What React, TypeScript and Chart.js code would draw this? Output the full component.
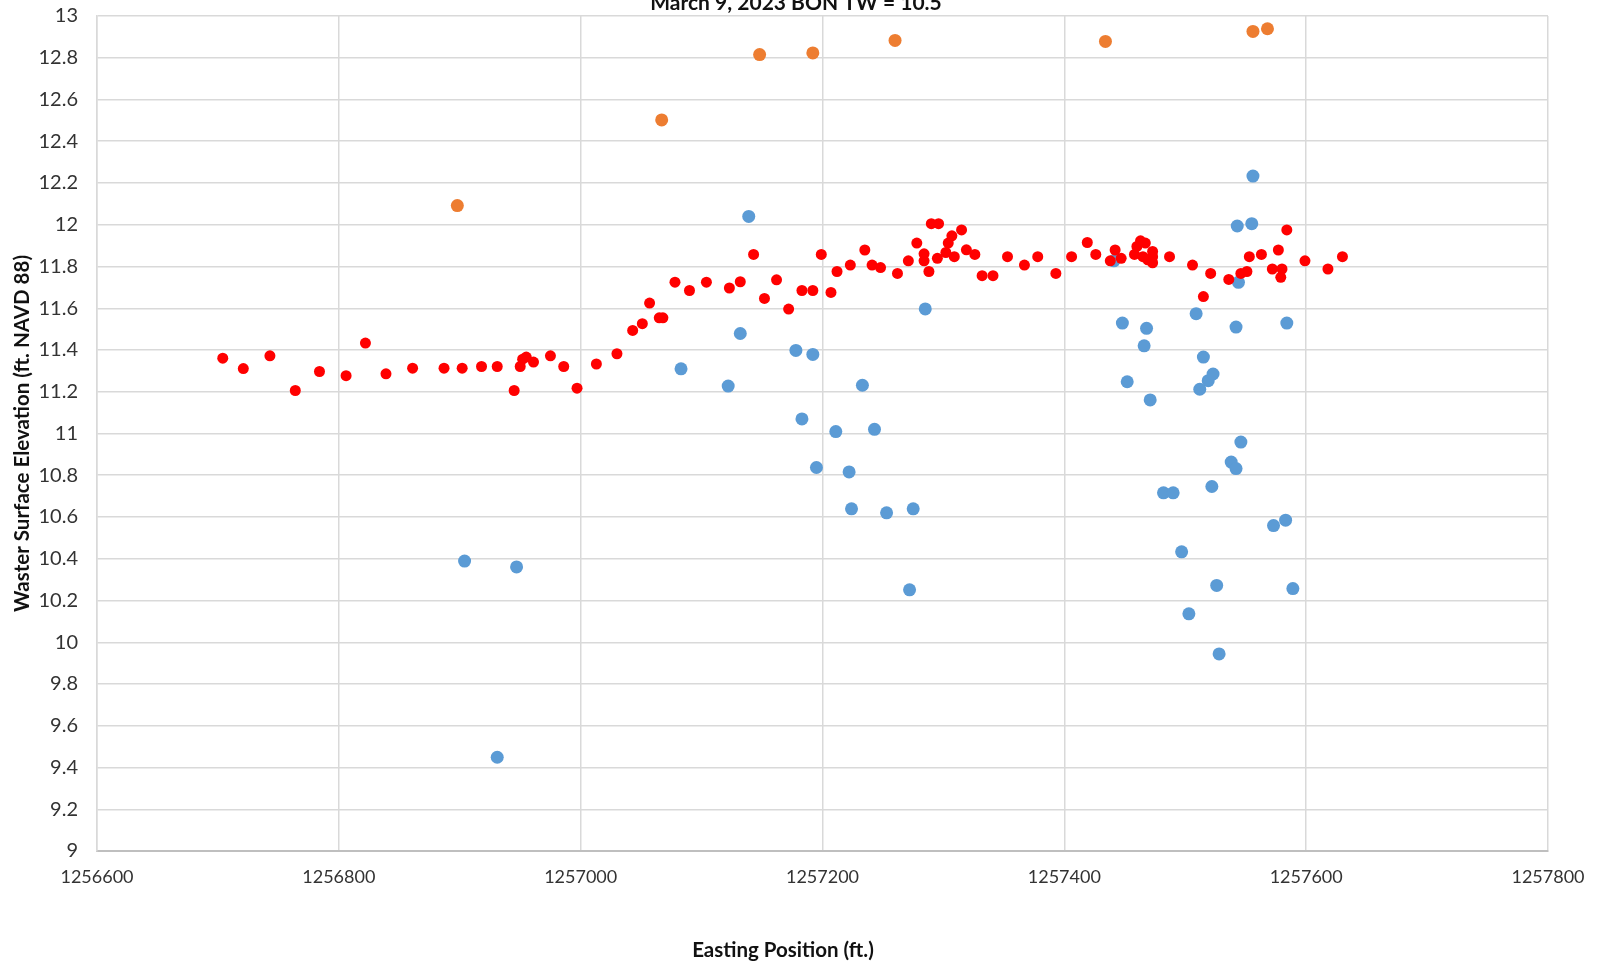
import React, { useEffect, useRef } from "react";
import { Chart, registerables } from "chart.js";

Chart.register(...registerables);

const CHART_TITLE = "March 9, 2023 BON TW = 10.5";
const X_TITLE = "Easting Position (ft.)";
const Y_TITLE = "Waster Surface Elevation (ft. NAVD 88)";

const X_MIN = 1256600;
const X_MAX = 1257800;
const X_STEP = 200;
const Y_MIN = 9;
const Y_MAX = 13;
const Y_STEP = 0.2;

const redX = [
  1256704, 1256721, 1256743, 1256764, 1256784, 1256806, 1256822, 1256839, 1256861, 1256887,
  1256902, 1256918, 1256931, 1256945, 1256950, 1256952, 1256955, 1256961, 1256975, 1256986,
  1256997, 1257013, 1257030, 1257043, 1257051, 1257057, 1257065, 1257068, 1257078, 1257090,
  1257104, 1257123, 1257132, 1257143, 1257152, 1257162, 1257172, 1257183, 1257192, 1257199,
  1257207, 1257212, 1257223, 1257235, 1257241, 1257248, 1257262, 1257271, 1257278, 1257284,
  1257284, 1257288, 1257290, 1257296, 1257295, 1257302, 1257304, 1257307, 1257309, 1257315,
  1257319, 1257326, 1257332, 1257341, 1257353, 1257367, 1257378, 1257393, 1257406, 1257419,
  1257426, 1257438, 1257442, 1257447, 1257458, 1257460, 1257463, 1257467, 1257465, 1257469,
  1257473, 1257473, 1257473, 1257487, 1257506, 1257515, 1257521, 1257536, 1257546, 1257551,
  1257553, 1257563, 1257572, 1257577, 1257580, 1257579, 1257584, 1257599, 1257618, 1257630,
];
const redY = [
  11.361, 11.311, 11.372, 11.206, 11.297, 11.277, 11.433, 11.286, 11.313, 11.313,
  11.313, 11.321, 11.321, 11.206, 11.321, 11.356, 11.366, 11.342, 11.372, 11.321,
  11.217, 11.333, 11.382, 11.494, 11.526, 11.625, 11.554, 11.554, 11.725, 11.685,
  11.725, 11.697, 11.727, 11.858, 11.647, 11.736, 11.596, 11.685, 11.685, 11.858,
  11.676, 11.776, 11.807, 11.879, 11.807, 11.795, 11.767, 11.827, 11.912, 11.861,
  11.827, 11.776, 12.005, 12.005, 11.839, 11.867, 11.912, 11.947, 11.847, 11.975,
  11.88, 11.858, 11.756, 11.756, 11.847, 11.807, 11.847, 11.767, 11.847, 11.915,
  11.858, 11.827, 11.879, 11.839, 11.858, 11.896, 11.923, 11.912, 11.847, 11.832,
  11.872, 11.847, 11.818, 11.847, 11.807, 11.656, 11.767, 11.738, 11.767, 11.776,
  11.847, 11.858, 11.788, 11.879, 11.788, 11.748, 11.975, 11.827, 11.788, 11.847,
];

const blueX = [
  1256904, 1256947, 1256931, 1257083, 1257122, 1257132, 1257139, 1257178, 1257183, 1257192,
  1257195, 1257211, 1257222, 1257224, 1257233, 1257243, 1257253, 1257272, 1257275, 1257285,
  1257441, 1257448, 1257452, 1257466, 1257468, 1257471, 1257482, 1257490, 1257497, 1257503,
  1257509, 1257512, 1257515, 1257519, 1257522, 1257523, 1257526, 1257528, 1257538, 1257542,
  1257542, 1257543, 1257544, 1257546, 1257555, 1257556, 1257573, 1257583, 1257584, 1257589,
];
const blueY = [
  10.389, 10.361, 9.449, 11.31, 11.227, 11.479, 12.04, 11.398, 11.07, 11.379,
  10.837, 11.009, 10.816, 10.639, 11.231, 11.02, 10.62, 10.251, 10.639, 11.597,
  11.827, 11.529, 11.248, 11.42, 11.504, 11.161, 10.716, 10.716, 10.433, 10.136,
  11.574, 11.212, 11.366, 11.253, 10.746, 11.285, 10.272, 9.944, 10.863, 10.832,
  11.51, 11.994, 11.724, 10.959, 12.005, 12.233, 10.559, 10.585, 11.529, 10.257,
];

const orangeX = [1256898, 1257067, 1257148, 1257192, 1257260, 1257434, 1257556, 1257568];
const orangeY = [12.092, 12.502, 12.815, 12.823, 12.883, 12.878, 12.926, 12.939];

const toPoints = (xs: number[], ys: number[]) => xs.map((x, i) => ({ x, y: ys[i] }));

const textPlugin = {
  id: "textPlugin",
  afterDraw(chart: any) {
    const { ctx, chartArea, width } = chart;
    ctx.save();
    ctx.fillStyle = "#111";
    ctx.textAlign = "center";
    // chart title (partly above the canvas, as in the reference)
    ctx.font = "bold 21px Lato";
    ctx.textBaseline = "alphabetic";
    ctx.fillText(CHART_TITLE, width / 2 - 3, 10);
    // x axis title
    ctx.font = "bold 20.5px Lato";
    ctx.textBaseline = "middle";
    ctx.fillText(X_TITLE, width / 2 - 16, chartArea.bottom + 99);
    // y axis title
    ctx.translate(22.5, (chartArea.top + chartArea.bottom) / 2);
    ctx.rotate(-Math.PI / 2);
    ctx.fillText(Y_TITLE, 0, 0);
    ctx.restore();
  },
};

export default function App() {
  const ref = useRef<HTMLCanvasElement | null>(null);

  useEffect(() => {
    if (!ref.current) return;
    const chart = new Chart(ref.current, {
      type: "scatter",
      data: {
        datasets: [
          {
            label: "Red",
            data: toPoints(redX, redY),
            backgroundColor: "#ff0000",
            borderWidth: 0,
            pointRadius: 5.5,
          },
          {
            label: "Blue",
            data: toPoints(blueX, blueY),
            backgroundColor: "#5b9bd5",
            borderWidth: 0,
            pointRadius: 6.5,
          },
          {
            label: "Orange",
            data: toPoints(orangeX, orangeY),
            backgroundColor: "#ed7d31",
            borderWidth: 0,
            pointRadius: 6.5,
          },
        ],
      },
      options: {
        animation: false,
        responsive: false,
        maintainAspectRatio: false,
        layout: { padding: { top: 16, right: 50, left: 0, bottom: 0 } },
        plugins: {
          legend: { display: false },
          title: { display: false },
          tooltip: { enabled: false },
        },
        scales: {
          x: {
            type: "linear",
            min: X_MIN,
            max: X_MAX,
            afterFit: (s: any) => {
              s.height = 115;
              s.paddingLeft = 0;
              s.paddingRight = 0;
            },
            grid: { color: "#d9d9d9", lineWidth: 1.5, drawTicks: false },
            border: { color: "#bfbfbf", width: 2 },
            ticks: {
              stepSize: X_STEP,
              autoSkip: false,
              maxRotation: 0,
              padding: 15,
              color: "#333",
              font: { family: "Lato", size: 18 },
              callback: (v: any) => String(v),
            },
          },
          y: {
            type: "linear",
            min: Y_MIN,
            max: Y_MAX,
            afterFit: (s: any) => {
              s.width = 97;
              s.paddingTop = 0;
              s.paddingBottom = 0;
            },
            grid: { color: "#d9d9d9", lineWidth: 1.5, drawTicks: false },
            border: { color: "#d9d9d9", width: 1.5 },
            ticks: {
              stepSize: Y_STEP,
              autoSkip: false,
              padding: 19,
              color: "#333",
              font: { family: "Lato", size: 20 },
              callback: (v: any) => String(Number(Number(v).toFixed(1))),
            },
          },
        },
      },
      plugins: [textPlugin],
    });
    return () => chart.destroy();
  }, []);

  return (
    <div style={{ position: "absolute", left: 0, top: 0, width: 1598, height: 966, background: "#fff" }}>
      <canvas ref={ref} width={1598} height={966} style={{ width: 1598, height: 966, display: "block" }} />
    </div>
  );
}
